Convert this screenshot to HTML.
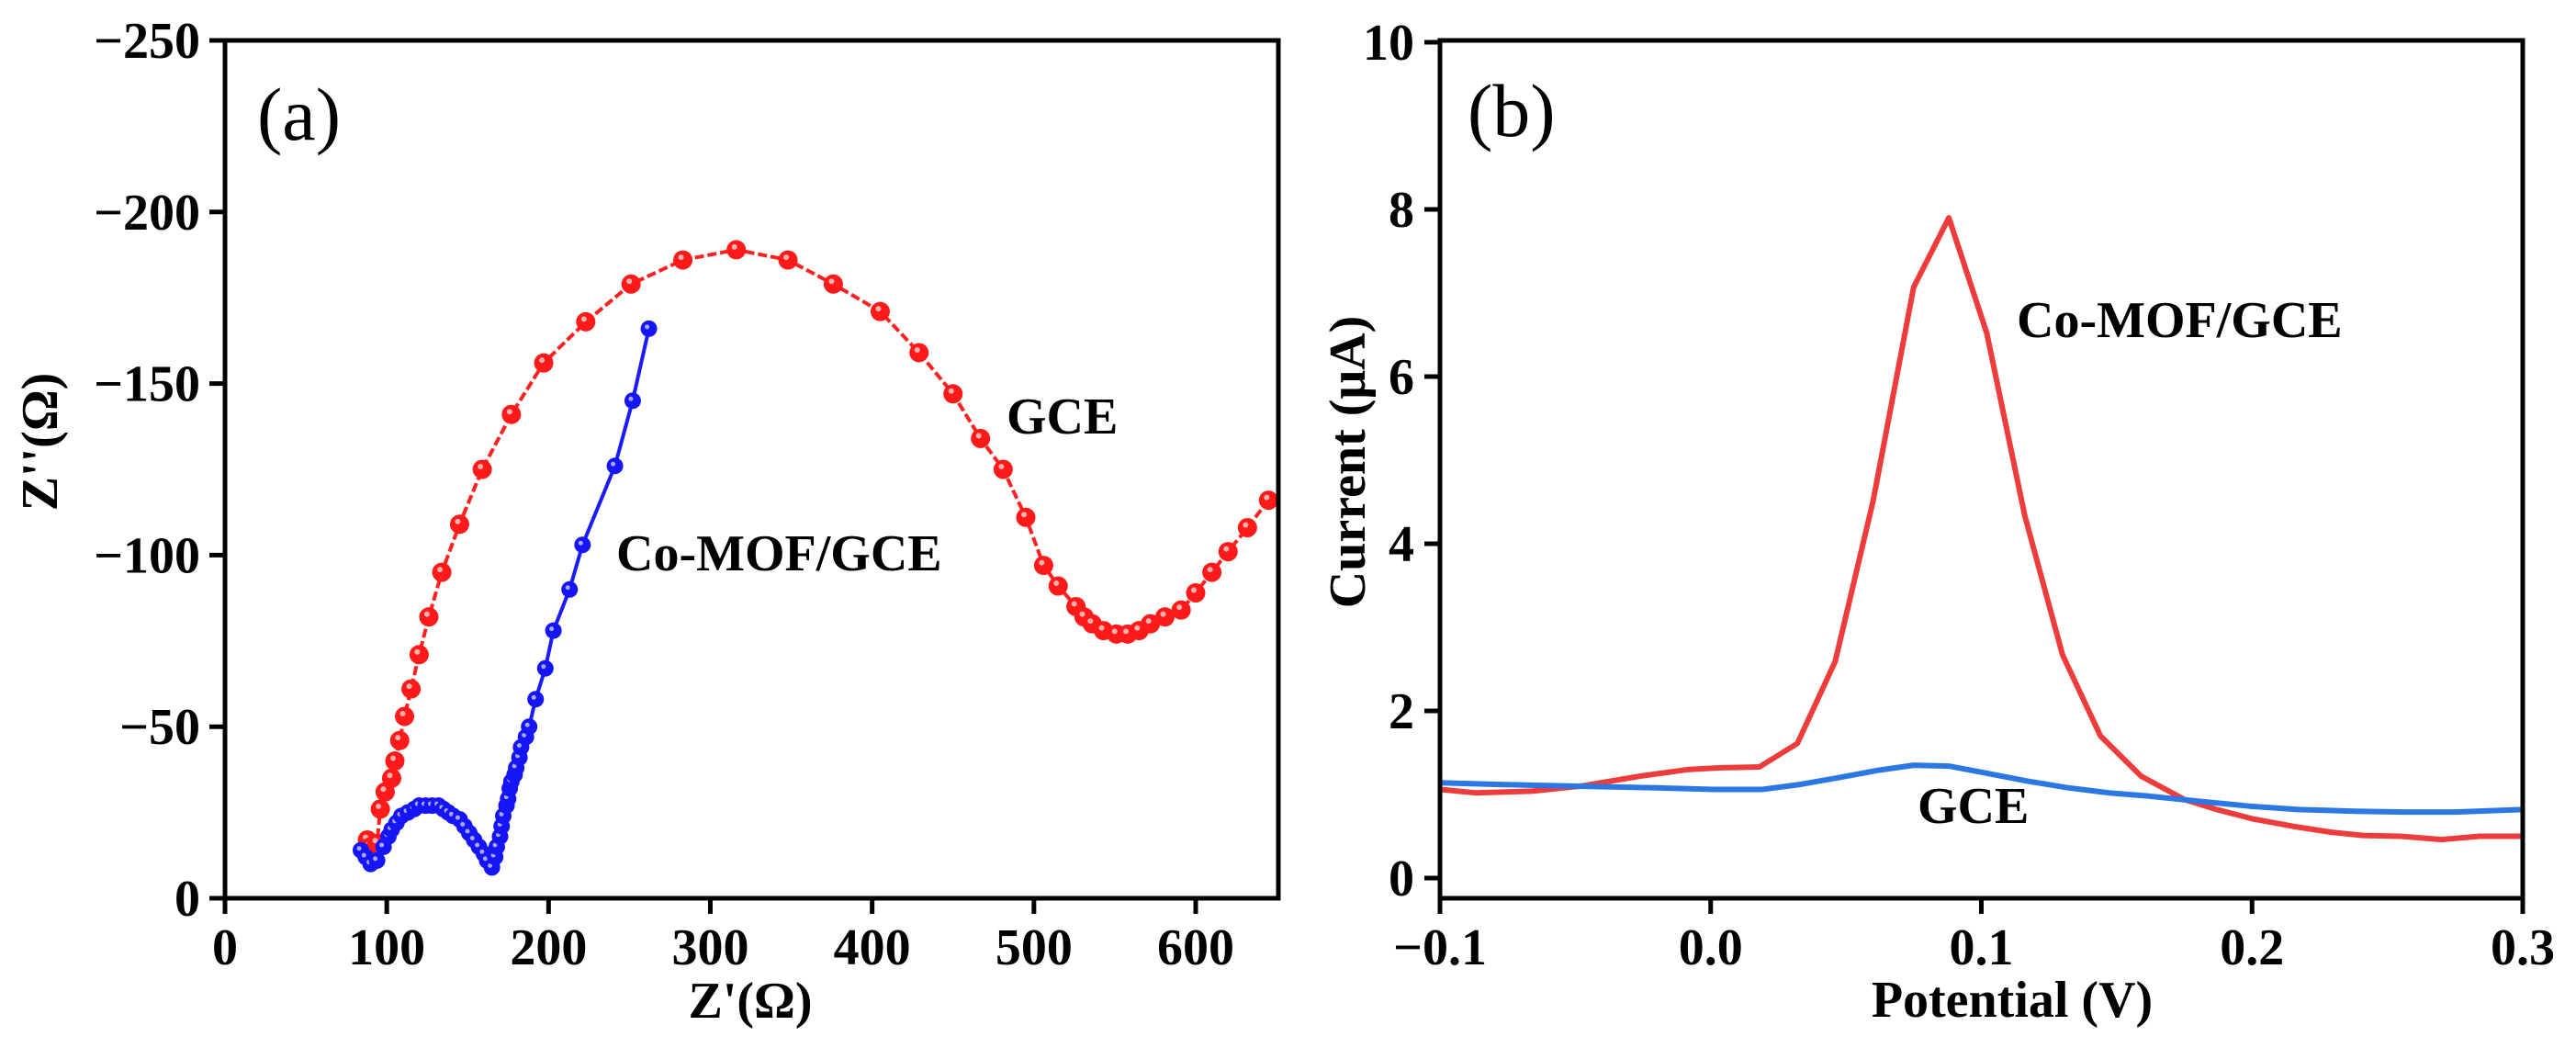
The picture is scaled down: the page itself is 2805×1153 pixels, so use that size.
<!DOCTYPE html>
<html><head><meta charset="utf-8"><style>
html,body{margin:0;padding:0;background:#fff;}
svg{display:block;}
text{font-family:"Liberation Serif","Times New Roman",serif;font-weight:bold;fill:#000;}
</style></head><body>
<svg id="fig" width="2805" height="1153" viewBox="0 0 2805 1153" xmlns="http://www.w3.org/2000/svg">
<g id="pa"></g>
<g id="pb"></g>
</svg>
<script>
// Panel (a) data
const aXTicks=[0,100,200,300,400,500,600];
const aYTicks=[0,-50,-100,-150,-200,-250];
const aGceX=[88,90,92,94,96,99,103,105,108,111,115,120,126,134,145,159,177,197,223,251,283,316,348,376,405,429,450,467,481,495,506,515,526,531,536,543,551,558,565,572,581,591,600,610,620,632,645];
const aGceY=[17,15,14,16,26,31,35,40,46,53,61,71,82,95,109,125,141,156,168,179,186,189,186,179,171,159,147,134,125,111,97,91,85,82,80,78,77,77,78,80,82,84,89,95,101,108,116];
const aCoX=[84,87,90,94,98,101,103,106,109,113,117,120,124,128,132,135,138,141,145,148,151,154,157,160,162,165,167,168,170,171,172,174,175,176,177,179,180,182,183,186,188,192,198,203,213,221,241,252,262];
const aCoY=[14,12,10,11,15,18,20,22,24,25,26,27,27,27,27,26,25,24,23,21,19,17,15,13,11,9,12,15,18,21,24,27,29,32,34,36,38,41,44,47,50,58,67,78,90,103,126,145,166];
// Panel (b) data
const bXTicks=[-0.1,0.0,0.1,0.2,0.3];
const bXLabels=["\u22120.1","0.0","0.1","0.2","0.3"];
const bYTicks=[0,2,4,6,8,10];
const bCoX=[-0.1,-0.087,-0.066,-0.048,-0.026,-0.008,0.004,0.018,0.032,0.046,0.06,0.075,0.088,0.102,0.116,0.130,0.144,0.159,0.175,0.187,0.2,0.215,0.229,0.241,0.255,0.270,0.284,0.3];
const bCoY=[1.06,1.02,1.04,1.10,1.22,1.30,1.32,1.33,1.61,2.59,4.51,7.07,7.90,6.52,4.34,2.67,1.70,1.22,0.94,0.82,0.71,0.62,0.55,0.51,0.50,0.46,0.50,0.50];
const bGceX=[-0.1,-0.078,-0.051,-0.02,0.001,0.019,0.033,0.047,0.062,0.075,0.088,0.101,0.117,0.132,0.147,0.162,0.177,0.199,0.217,0.238,0.256,0.275,0.3];
const bGceY=[1.14,1.12,1.10,1.08,1.06,1.06,1.12,1.20,1.29,1.35,1.34,1.26,1.16,1.08,1.02,0.98,0.93,0.86,0.82,0.80,0.79,0.79,0.82];

const NS="http://www.w3.org/2000/svg";
function mk(parent,tag,attrs,txt){const e=document.createElementNS(NS,tag);for(const k in attrs)e.setAttribute(k,attrs[k]);if(txt!==undefined)e.textContent=txt;parent.appendChild(e);return e;}
const FS=56;

// Panel a
const pa=document.getElementById('pa');
const aL=245,aR=1392,aT=44,aB=978;
const ax=v=>aL+(v-0)*(1302-245)/600;
const ay=v=>aB+(v-0)*(aB-aT)/250;
function polyA(xs,ys){return xs.map((x,i)=>ax(x).toFixed(1)+","+ay(-ys[i]).toFixed(1)).join(" ");}
let e;
e=mk(pa,'polyline',{points:polyA(aGceX,aGceY),fill:'none',stroke:'#ff2020','stroke-width':4,'stroke-dasharray':'10 4'});


aGceX.forEach((x,i)=>{const c=mk(pa,'circle',{cx:ax(x),cy:ay(-aGceY[i]),r:10.5,fill:'#ff1a1a'});


const h=mk(pa,'circle',{cx:ax(x)-2,cy:ay(-aGceY[i])-3,r:3,fill:'#ffb0b0'});

});
e=mk(pa,'polyline',{points:polyA(aCoX,aCoY),fill:'none',stroke:'#1a1aff','stroke-width':4});


aCoX.forEach((x,i)=>{const c=mk(pa,'circle',{cx:ax(x),cy:ay(-aCoY[i]),r:9,fill:'#1515f5'});


const h=mk(pa,'circle',{cx:ax(x)-2,cy:ay(-aCoY[i])-2,r:2.5,fill:'#a8a8ff'});

});
e=mk(pa,'rect',{x:aR+3,y:0,width:40,height:aB,fill:'#fff'});


e=mk(pa,'path',{d:`M${aL},${aT} H${aR} V${aB} H${aL} Z`,fill:'none',stroke:'#000','stroke-width':5});


aXTicks.forEach(t=>{const X=ax(t);
const l=mk(pa,'line',{x1:X,x2:X,y1:aB,y2:aB+17,stroke:'#000','stroke-width':5});


const tx=mk(pa,'text',{x:X,y:1050,'font-size':FS,'text-anchor':'middle'},String(t));

});
aYTicks.forEach(t=>{const Y=ay(t);
const l=mk(pa,'line',{x1:aL-17,x2:aL,y1:Y,y2:Y,stroke:'#000','stroke-width':5});


const tx=mk(pa,'text',{x:218,y:Y+19,'font-size':FS,'text-anchor':'end'},t===0?"0":"\u2212"+Math.abs(t));

});
e=mk(pa,'text',{x:817,y:1108,'font-size':FS,'text-anchor':'middle'},"Z'(\u03A9)");


e=mk(pa,'text',{x:0,y:0,'font-size':FS,'text-anchor':'middle',transform:'translate(62,481) rotate(-90)'},"Z''(\u03A9)");


e=mk(pa,'text',{x:280,y:152,'font-size':82,style:'font-weight:normal'},"(a)");


e=mk(pa,'text',{x:1096,y:472,'font-size':FS},"GCE");


e=mk(pa,'text',{x:671,y:621,'font-size':FS},"Co-MOF/GCE");



// Panel b
const pb=document.getElementById('pb');
const bL=1568,bR=2747,bT=44,bB=978;
const bx=v=>bL+(v+0.1)*(bR-bL)/0.4;
const by=v=>956-v*(956-46)/10;
function polyB(xs,ys){return xs.map((x,i)=>bx(x).toFixed(1)+","+by(ys[i]).toFixed(1)).join(" ");}
e=mk(pb,'polyline',{points:polyB(bCoX,bCoY),fill:'none',stroke:'#ee3b3b','stroke-width':6,'stroke-linejoin':'round'});


e=mk(pb,'polyline',{points:polyB(bGceX,bGceY),fill:'none',stroke:'#2b78e4','stroke-width':6,'stroke-linejoin':'round'});


e=mk(pb,'path',{d:`M${bL},${bT} H${bR} V${bB} H${bL} Z`,fill:'none',stroke:'#000','stroke-width':5});


bXTicks.forEach((t,i)=>{const X=bx(t);
const l=mk(pb,'line',{x1:X,x2:X,y1:bB,y2:bB+17,stroke:'#000','stroke-width':5});


const tx=mk(pb,'text',{x:X,y:1050,'font-size':FS,'text-anchor':'middle'},bXLabels[i]);

});
bYTicks.forEach(t=>{const Y=by(t);
const l=mk(pb,'line',{x1:bL-17,x2:bL,y1:Y,y2:Y,stroke:'#000','stroke-width':5});


const tx=mk(pb,'text',{x:1540,y:Y+19,'font-size':FS,'text-anchor':'end'},String(t));

});
e=mk(pb,'text',{x:2191,y:1107,'font-size':FS,'text-anchor':'middle'},"Potential (V)");


e=mk(pb,'text',{x:0,y:0,'font-size':FS,'text-anchor':'middle',transform:'translate(1486,503) rotate(-90)'},"Current (\u03BCA)");


e=mk(pb,'text',{x:1598,y:148,'font-size':82,style:'font-weight:normal'},"(b)");


e=mk(pb,'text',{x:2196,y:367,'font-size':FS},"Co-MOF/GCE");


e=mk(pb,'text',{x:2088,y:896,'font-size':FS},"GCE");


</script>
</body></html>
